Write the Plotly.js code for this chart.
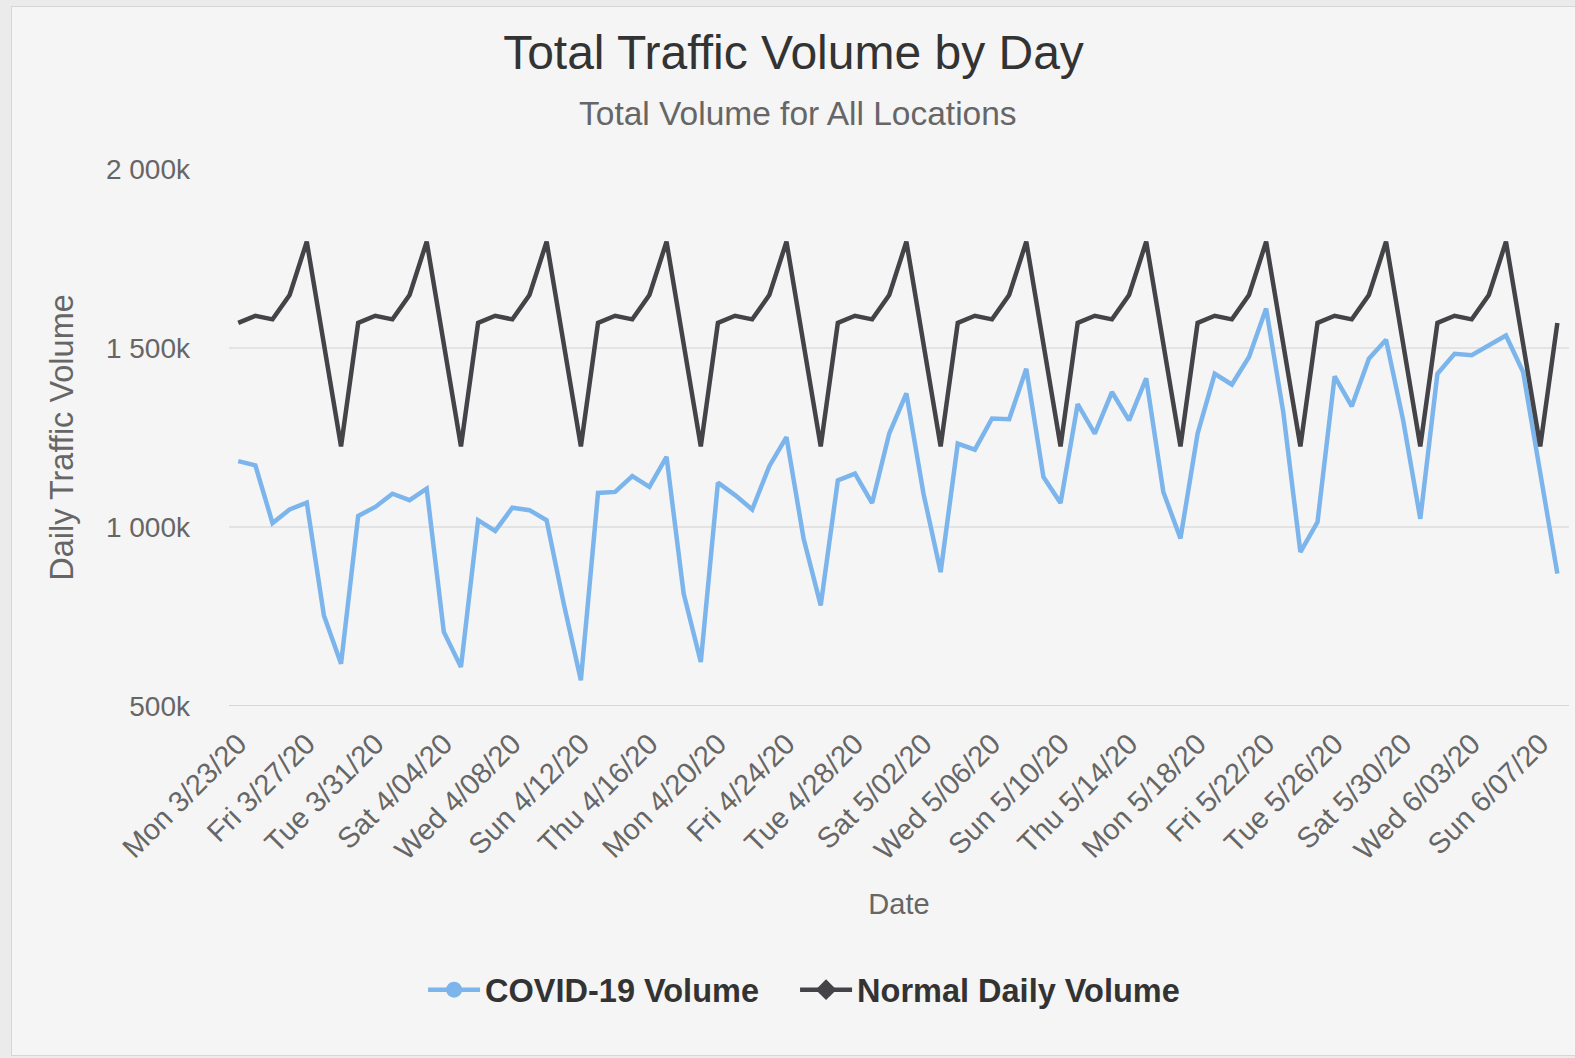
<!DOCTYPE html>
<html>
<head>
<meta charset="utf-8">
<script src="https://cdn.plot.ly/plotly-3.0.1.min.js"></script>
<style>
  html, body { margin: 0; padding: 0; width: 1575px; height: 1058px; overflow: hidden; background: #ebebeb; }
  #card { position: absolute; left: 11px; top: 6px; width: 1570px; height: 1048px; border: 1px solid #d6d6d6; background: #f5f5f5; }
  #chart { width: 1563px; height: 1048px; }
</style>
</head>
<body>
<div id="card"><div id="chart"></div></div>
<script>
const dates = [
  "Mon 3/23/20","Tue 3/24/20","Wed 3/25/20","Thu 3/26/20","Fri 3/27/20","Sat 3/28/20","Sun 3/29/20",
  "Mon 3/30/20","Tue 3/31/20","Wed 4/01/20","Thu 4/02/20","Fri 4/03/20","Sat 4/04/20","Sun 4/05/20",
  "Mon 4/06/20","Tue 4/07/20","Wed 4/08/20","Thu 4/09/20","Fri 4/10/20","Sat 4/11/20","Sun 4/12/20",
  "Mon 4/13/20","Tue 4/14/20","Wed 4/15/20","Thu 4/16/20","Fri 4/17/20","Sat 4/18/20","Sun 4/19/20",
  "Mon 4/20/20","Tue 4/21/20","Wed 4/22/20","Thu 4/23/20","Fri 4/24/20","Sat 4/25/20","Sun 4/26/20",
  "Mon 4/27/20","Tue 4/28/20","Wed 4/29/20","Thu 4/30/20","Fri 5/01/20","Sat 5/02/20","Sun 5/03/20",
  "Mon 5/04/20","Tue 5/05/20","Wed 5/06/20","Thu 5/07/20","Fri 5/08/20","Sat 5/09/20","Sun 5/10/20",
  "Mon 5/11/20","Tue 5/12/20","Wed 5/13/20","Thu 5/14/20","Fri 5/15/20","Sat 5/16/20","Sun 5/17/20",
  "Mon 5/18/20","Tue 5/19/20","Wed 5/20/20","Thu 5/21/20","Fri 5/22/20","Sat 5/23/20","Sun 5/24/20",
  "Mon 5/25/20","Tue 5/26/20","Wed 5/27/20","Thu 5/28/20","Fri 5/29/20","Sat 5/30/20","Sun 5/31/20",
  "Mon 6/01/20","Tue 6/02/20","Wed 6/03/20","Thu 6/04/20","Fri 6/05/20","Sat 6/06/20","Sun 6/07/20",
  "Mon 6/08/20"
];

// values in thousands
const covidVolume = [
  1184,1172,1011,1049,1068,753,618,
  1031,1056,1093,1075,1107,707,609,
  1019,989,1054,1047,1019,786,572,
  1095,1098,1142,1112,1196,814,623,
  1124,1089,1049,1170,1251,968,781,
  1130,1149,1067,1261,1373,1093,874,
  1233,1216,1303,1301,1442,1140,1067,
  1343,1261,1377,1298,1415,1098,968,
  1261,1428,1398,1475,1610,1321,930,
  1014,1421,1337,1470,1523,1298,1023,
  1428,1484,1480,1508,1535,1433,1149,
  870
];

const normalVolume = [
  1570,1590,1580,1648,1797,1510,1225,
  1570,1590,1580,1648,1797,1510,1225,
  1570,1590,1580,1648,1797,1510,1225,
  1570,1590,1580,1648,1797,1510,1225,
  1570,1590,1580,1648,1797,1510,1225,
  1570,1590,1580,1648,1797,1510,1225,
  1570,1590,1580,1648,1797,1510,1225,
  1570,1590,1580,1648,1797,1510,1225,
  1570,1590,1580,1648,1797,1510,1225,
  1570,1590,1580,1648,1797,1510,1225,
  1570,1590,1580,1648,1797,1510,1225,
  1570
];

const yTickVals = [500, 1000, 1500, 2000];
const yTickText = ["500k", "1 000k", "1 500k", "2 000k"];
const xTickVals = dates.filter((d, i) => i % 4 === 0);

const FONT = '"Liberation Sans", Arial, Helvetica, sans-serif';
const BLUE = '#7cb5ec';
const DARK = '#434348';

const traces = [
  { x: dates, y: covidVolume, type: 'scatter', mode: 'lines', name: 'COVID-19 Volume',
    line: { color: BLUE, width: 4.5 }, showlegend: false },
  { x: dates, y: normalVolume, type: 'scatter', mode: 'lines', name: 'Normal Daily Volume',
    line: { color: DARK, width: 4.5 }, showlegend: false },
  { x: [null], y: [null], type: 'scatter', mode: 'lines+markers', name: 'COVID-19 Volume',
    line: { color: BLUE, width: 4.5 }, marker: { symbol: 'circle', size: 17, color: BLUE },
    showlegend: true, legend: 'legend' },
  { x: [null], y: [null], type: 'scatter', mode: 'lines+markers', name: 'Normal Daily Volume',
    line: { color: DARK, width: 4.5 }, marker: { symbol: 'diamond', size: 19, color: DARK },
    showlegend: true, legend: 'legend2' }
];

const legendStyle = {
  orientation: 'h', xref: 'container', xanchor: 'left',
  y: 0.062, yref: 'container', yanchor: 'middle',
  font: { family: FONT, size: 32.5, color: '#333333', weight: 'bold' },
  itemwidth: 52, itemsizing: 'trace',
  bgcolor: 'rgba(0,0,0,0)'
};

const layout = {
  width: 1563, height: 1048,
  paper_bgcolor: '#f5f5f5', plot_bgcolor: '#f5f5f5',
  font: { family: FONT, color: '#666666' },
  margin: { l: 217, r: 6, t: 162, b: 349 },
  title: {
    text: 'Total Traffic Volume by Day',
    font: { family: FONT, size: 48, color: '#333333' },
    x: 0.5, xref: 'container', xanchor: 'center',
    y: 0.957, yref: 'container', yanchor: 'middle'
  },
  annotations: [
    { text: 'Total Volume for All Locations', xref: 'paper', yref: 'paper',
      x: 0.5, xanchor: 'center', y: 1, yanchor: 'middle', yshift: 162 - 106, showarrow: false,
      xshift: -(217 - 6) / 2 + 4,
      font: { family: FONT, size: 33.5, color: '#666666' } }
  ],
  xaxis: {
    type: 'category',
    range: [-0.54, 77.68],
    tickmode: 'array', tickvals: xTickVals, ticktext: xTickVals,
    tickangle: -45,
    tickfont: { family: FONT, size: 29, color: '#666666' },
    ticks: '', ticklabelstandoff: 14,
    showgrid: false, zeroline: false,
    showline: false,
    title: { text: 'Date', font: { family: FONT, size: 29, color: '#666666' }, standoff: 28 },
    automargin: false
  },
  yaxis: {
    range: [500, 2000],
    tickmode: 'array', tickvals: yTickVals, ticktext: yTickText,
    tickfont: { family: FONT, size: 28, color: '#666666' },
    ticks: '', ticklabelstandoff: 38,
    showgrid: true, gridcolor: '#e3e3e3', gridwidth: 2,
    zeroline: false, showline: false,
    title: { text: 'Daily Traffic Volume', font: { family: FONT, size: 32.5, color: '#666666' }, standoff: 22 },
    automargin: false
  },
  shapes: [
    { type: 'line', xref: 'paper', yref: 'y', x0: 0, x1: 1, y0: 500, y1: 500,
      line: { color: '#ccd6eb', width: 2 }, layer: 'below' }
  ],
  legend: Object.assign({}, legendStyle, { x: 0.263 }),
  legend2: Object.assign({}, legendStyle, { x: 0.501 }),
  hovermode: false
};

Plotly.newPlot('chart', traces, layout, { staticPlot: true, displayModeBar: false });
</script>
</body>
</html>
